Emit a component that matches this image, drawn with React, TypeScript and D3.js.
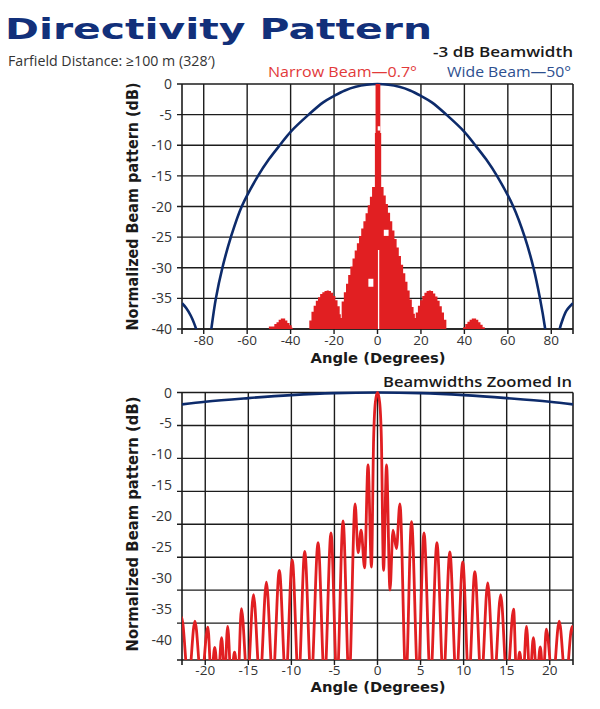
import React from 'react';
import * as d3 from 'd3';

// ---------- data ----------
const topXTicks = [-80, -60, -40, -20, 0, 20, 40, 60, 80];
const yTicks = [0, -5, -10, -15, -20, -25, -30, -35, -40];
const botXTicks = [-20, -15, -10, -5, 0, 5, 10, 15, 20];
const botGridY = [0, -5, -10, -15, -20, -25, -30, -35];

// wide beam, full view [angle, dB]
const wideMain: [number, number][] = [
  [-77.2, -42], [-76.5, -40], [-74.4, -35], [-71.4, -30], [-67.5, -25], [-62.5, -20],
  [-55, -15], [-50, -12.3], [-45, -10], [-40, -7.8], [-31.7, -5], [-25, -3], [-20, -1.95],
  [-15, -1.05], [-10, -0.45], [-5, -0.12], [0, 0], [5, -0.12], [10, -0.45], [15, -1.05],
  [20, -1.95], [25, -3], [31.7, -5], [40, -7.8], [45, -10], [50, -12.3], [55, -15],
  [62.5, -20], [67.8, -25], [71.8, -30], [74.8, -35], [77.2, -40], [77.9, -42],
];
const wideSideLeft: [number, number][] = [
  [-90, -35.8], [-88, -36.6], [-86, -37.8], [-84.5, -39], [-83, -40.6], [-82.5, -42],
];
const wideSideRight: [number, number][] = [
  [83, -42], [83.6, -40.4], [85, -38.7], [87, -37], [90, -35.8],
];

// narrow beam, full view envelope [angle, dB] (stepped)
const narrowFull: [number, number][] = [
  [-50.5, -41], [-50, -39.6], [-47.5, -39.2], [-46.5, -38.9], [-45.5, -38.5], [-44.5, -38.3],
  [-43.5, -38.3], [-42.5, -38.6], [-41.5, -39], [-40.5, -39.4], [-39.5, -39.8], [-39, -41],
  [-31.4, -38.6], [-30.4, -37.2], [-29.4, -36.2], [-28.4, -35.4], [-27.4, -34.8], [-26.4, -34.3],
  [-25.4, -34], [-24.4, -33.8], [-23.4, -33.7], [-22.4, -33.8], [-21.4, -34.1], [-20.4, -34.6],
  [-19.4, -35.3], [-18.4, -36.3], [-17.4, -37.6], [-16.9, -38.2], [-16.5, -35.5], [-15.5, -34],
  [-14.5, -32.6], [-13.5, -31.2], [-12.5, -29.8], [-11.5, -28.5], [-10.5, -27.2], [-9.5, -26],
  [-8.5, -24.8], [-7.5, -23.6], [-6.5, -22.4], [-5.5, -21.1], [-4.5, -19.8], [-3.5, -18.4],
  [-2.5, -16.8], [-1.2, -8], [-0.9, 0], [1.3, -8], [1.7, -16.8], [2.8, -18.2], [3.8, -19.6],
  [4.8, -21], [5.8, -22.4], [6.8, -23.9], [7.8, -25.3], [8.8, -26.7], [9.8, -28.1], [10.8, -29.5],
  [11.8, -30.9], [12.8, -32.3], [13.8, -33.7], [14.8, -35.2], [15.8, -36.4], [16.6, -37.5],
  [17.2, -38.2], [17.6, -37.3], [18.6, -36.2], [19.6, -35.3], [20.6, -34.6], [21.6, -34.1],
  [22.6, -33.8], [23.6, -33.7], [24.6, -33.8], [25.6, -34.2], [26.6, -34.7], [27.6, -35.4],
  [28.6, -36.3], [29.6, -37.3], [30.6, -38.5], [31.7, -41], [39.4, -39.7], [40.4, -39.2],
  [41.4, -38.8], [42.4, -38.5], [43.4, -38.3], [44.4, -38.3], [45.4, -38.5], [46.4, -38.9],
  [47.4, -39.3], [48.4, -39.7], [49.4, -41], [50, -41],
];
// white gaps inside narrow-beam fill [angle0, angle1, dBtop, dBbottom]
const narrowGaps: [number, number, number, number][] = [
  [0.1, 1.3, -6.9, -7.6],
  [2.9, 5.1, -23.8, -24.8],
  [-4.2, -1.9, -31.8, -33.1],
  [0.2, 0.8, -27.1, -40],
];

// wide beam, zoomed view
const wideZoom: [number, number][] = [
  [-22.7, -1.8], [-20, -1.4], [-15, -0.85], [-10, -0.4], [-5, -0.1], [0, 0],
  [5, -0.1], [10, -0.4], [15, -0.85], [20, -1.4], [22.7, -1.8],
];

// narrow beam, zoomed view (lobe peaks and nulls)
const narrowZoom: [number, number][] = [
  [-23.3, -38], [-22.75, -34.1], [-21.95, -44], [-21.2, -34.7], [-20.45, -44], [-19.7, -35.6],
  [-19.3, -43.5], [-18.9, -38.7], [-18.5, -43.5], [-18.1, -37.2], [-17.75, -43.5], [-17.4, -35.5],
  [-17.0, -43.5], [-16.6, -39.4], [-16.2, -43.5], [-15.8, -32.8], [-15.1, -44], [-14.4, -30.7],
  [-13.65, -44], [-12.9, -28.8], [-12.15, -44], [-11.4, -27.0], [-10.65, -44], [-9.9, -25.4],
  [-9.17, -44], [-8.45, -24.1], [-7.7, -44], [-6.9, -22.8], [-6.15, -44], [-5.4, -21.3],
  [-4.7, -44], [-4.0, -19.5], [-3.3, -44], [-2.6, -16.9], [-2.25, -24.3], [-1.9, -20.9],
  [-1.5, -26.6], [-1.1, -11.0], [-0.7, -26.5], [-0.45, -7], [-0.25, -1.5], [0, 0], [0.25, -1.5],
  [0.45, -7], [0.7, -27], [1.05, -11.0], [1.45, -30], [1.8, -20.9], [2.2, -23.7], [2.6, -16.9],
  [3.3, -44], [3.95, -19.6], [4.7, -44], [5.4, -21.3], [6.15, -44], [6.9, -22.8], [7.65, -44],
  [8.4, -24.2], [9.15, -44], [9.9, -25.7], [10.6, -44], [11.3, -27.2], [12.05, -44], [12.8, -28.9],
  [13.55, -44], [14.3, -30.7], [15.05, -44], [15.8, -32.9], [16.15, -43.5], [16.5, -39.4],
  [16.9, -43.5], [17.3, -35.5], [17.7, -43.5], [18.1, -37.2], [18.5, -43.5], [18.9, -38.6],
  [19.25, -43.5], [19.6, -35.9], [20.35, -44], [21.1, -34.7], [21.85, -44], [22.6, -35.5],
  [23.2, -44],
];

const RED = '#e11f22';
const BLUE = '#0d2b6b';
const GRID = '#1c1c1c';
const TICKFONT = "'Open Sans', 'DejaVu Sans', sans-serif";
const BOLDFONT = "'DejaVu Sans', sans-serif";

export default function App() {
  const xTop = d3.scaleLinear().domain([-90, 90]).range([182, 573]);
  const yTop = d3.scaleLinear().domain([-40, 0]).range([329, 84]);
  const xBot = d3.scaleLinear().domain([-22.7, 22.7]).range([182, 573]);
  const yBot = d3.scaleLinear().domain([-40.6, 0]).range([660, 392.5]);
  const yBotLabel = d3.scaleLinear().domain([-40, 0]).range([640, 392.5]);

  const lineTop = d3.line<[number, number]>().x(d => xTop(d[0])).y(d => yTop(d[1])).curve(d3.curveCatmullRom);
  const areaTop = d3.area<[number, number]>().x(d => xTop(d[0])).y0(yTop(-40)).y1(d => yTop(d[1])).curve(d3.curveStepAfter);
  const lineBotBlue = d3.line<[number, number]>().x(d => xBot(d[0])).y(d => yBot(d[1])).curve(d3.curveMonotoneX);
  const lineBotRed = d3.line<[number, number]>().x(d => xBot(d[0])).y(d => yBot(d[1])).curve(d3.curveMonotoneX);

  const [tx0, tx1] = xTop.range();
  const [bx0, bx1] = xBot.range();

  return (
    <svg width={600} height={709} style={{ position: 'absolute', left: 0, top: 0, background: '#fff' }}>
      <defs>
        <clipPath id="clipTop"><rect x={tx0} y={yTop(0) - 2} width={tx1 - tx0} height={yTop(-40) - yTop(0) + 2} /></clipPath>
        <clipPath id="clipBot"><rect x={bx0} y={yBot(0) - 3} width={bx1 - bx0} height={yBot(-40.6) - yBot(0) + 3} /></clipPath>
      </defs>
      <rect x={0} y={0} width={600} height={709} fill="#fff" />

      {/* Header texts */}
      <text x={5} y={39} fontFamily={BOLDFONT} fontWeight="bold" fontSize={28} fill="#12307a"
        textLength={427} lengthAdjust="spacingAndGlyphs">Directivity Pattern</text>
      <text x={8} y={66} fontFamily={TICKFONT} fontSize={14} fill="#333" textLength={207} lengthAdjust="spacingAndGlyphs">Farfield Distance: ≥100 m (328′)</text>
      <text x={433} y={57} fontFamily={TICKFONT} fontWeight={600} fontSize={15} fill="#1a1a1a" textLength={140} lengthAdjust="spacingAndGlyphs">-3 dB Beamwidth</text>
      <text x={268} y={77} fontFamily={TICKFONT} fontSize={15} fill="#e23a3a" textLength={149} lengthAdjust="spacingAndGlyphs">Narrow Beam—0.7°</text>
      <text x={447} y={77} fontFamily={TICKFONT} fontSize={15} fill="#2d4f8f" textLength={124} lengthAdjust="spacingAndGlyphs">Wide Beam—50°</text>

      {/* ---------- top plot ---------- */}
      <g>
        {topXTicks.map(t => (
          <line key={'tvx' + t} x1={xTop(t)} x2={xTop(t)} y1={yTop(0)} y2={yTop(-40) + 5} stroke={GRID} strokeWidth={1.4} />
        ))}
        {yTicks.map(t => (
          <line key={'tvy' + t} x1={tx0 - 5} x2={tx1} y1={yTop(t)} y2={yTop(t)} stroke={GRID} strokeWidth={1.4} />
        ))}
        <line x1={tx0} x2={tx0} y1={yTop(0)} y2={yTop(-40) + 5} stroke={GRID} strokeWidth={1.6} />
        <line x1={tx1} x2={tx1} y1={yTop(0)} y2={yTop(-40) + 5} stroke={GRID} strokeWidth={1.6} />
        <line x1={tx0} x2={tx1} y1={yTop(-40)} y2={yTop(-40)} stroke={GRID} strokeWidth={1.6} />

        <g clipPath="url(#clipTop)">
          <path d={lineTop(wideMain) || ''} fill="none" stroke={BLUE} strokeWidth={2.6} />
          <path d={lineTop(wideSideLeft) || ''} fill="none" stroke={BLUE} strokeWidth={2.6} />
          <path d={lineTop(wideSideRight) || ''} fill="none" stroke={BLUE} strokeWidth={2.6} />
          <path d={areaTop(narrowFull) || ''} fill={RED} stroke="none" />
          {narrowGaps.map((g, i) => (
            <rect key={'gap' + i} x={xTop(g[0])} width={xTop(g[1]) - xTop(g[0])} y={yTop(g[2])} height={yTop(g[3]) - yTop(g[2])} fill="#fff" />
          ))}
        </g>

        {yTicks.map(t => (
          <text key={'tly' + t} x={172} y={yTop(t)} dy="0.36em" textAnchor="end" fontFamily={TICKFONT} fontSize={14} fill="#333">{t}</text>
        ))}
        {topXTicks.map(t => (
          <text key={'tlx' + t} x={xTop(t)} y={345} textAnchor="middle" fontFamily={TICKFONT} fontSize={13.5} fill="#333">{t}</text>
        ))}
        <text x={378} y={363} textAnchor="middle" fontFamily={BOLDFONT} fontWeight="bold" fontSize={14} fill="#1a1a1a" textLength={135} lengthAdjust="spacingAndGlyphs">Angle (Degrees)</text>
        <text transform={`translate(138, ${(yTop(0) + yTop(-40)) / 2}) rotate(-90)`} textAnchor="middle" fontFamily={BOLDFONT} fontWeight="bold" fontSize={15} fill="#1a1a1a" textLength={248} lengthAdjust="spacingAndGlyphs">Normalized Beam pattern (dB)</text>
      </g>

      {/* ---------- bottom plot ---------- */}
      <g>
        <text x={383} y={386.5} fontFamily={TICKFONT} fontWeight={600} fontSize={15} fill="#1a1a1a" textLength={189} lengthAdjust="spacingAndGlyphs">Beamwidths Zoomed In</text>
        {botXTicks.map(t => (
          <line key={'bvx' + t} x1={xBot(t)} x2={xBot(t)} y1={yBot(0)} y2={yBot(-40.6) + 5} stroke={GRID} strokeWidth={1.4} />
        ))}
        {botGridY.map(t => (
          <line key={'bvy' + t} x1={bx0 - 5} x2={bx1} y1={yBot(t)} y2={yBot(t)} stroke={GRID} strokeWidth={1.4} />
        ))}
        <line x1={bx0} x2={bx0} y1={yBot(0)} y2={yBot(-40.6) + 5} stroke={GRID} strokeWidth={1.6} />
        <line x1={bx1} x2={bx1} y1={yBot(0)} y2={yBot(-40.6) + 5} stroke={GRID} strokeWidth={1.6} />
        <line x1={bx0 - 5} x2={bx1} y1={yBot(-40.6)} y2={yBot(-40.6)} stroke={GRID} strokeWidth={1.6} />

        <g clipPath="url(#clipBot)">
          <path d={lineBotBlue(wideZoom) || ''} fill="none" stroke={BLUE} strokeWidth={2.6} />
          <path d={lineBotRed(narrowZoom) || ''} fill="none" stroke={RED} strokeWidth={2.8} strokeLinejoin="round" />
        </g>

        {yTicks.map(t => (
          <text key={'bly' + t} x={172} y={yBotLabel(t)} dy="0.36em" textAnchor="end" fontFamily={TICKFONT} fontSize={14} fill="#333">{t}</text>
        ))}
        {botXTicks.map(t => (
          <text key={'blx' + t} x={xBot(t)} y={675} textAnchor="middle" fontFamily={TICKFONT} fontSize={13.5} fill="#333">{t}</text>
        ))}
        <text x={378} y={692} textAnchor="middle" fontFamily={BOLDFONT} fontWeight="bold" fontSize={14} fill="#1a1a1a" textLength={135} lengthAdjust="spacingAndGlyphs">Angle (Degrees)</text>
        <text transform={`translate(138, 524) rotate(-90)`} textAnchor="middle" fontFamily={BOLDFONT} fontWeight="bold" fontSize={15} fill="#1a1a1a" textLength={255} lengthAdjust="spacingAndGlyphs">Normalized Beam pattern (dB)</text>
      </g>
    </svg>
  );
}
